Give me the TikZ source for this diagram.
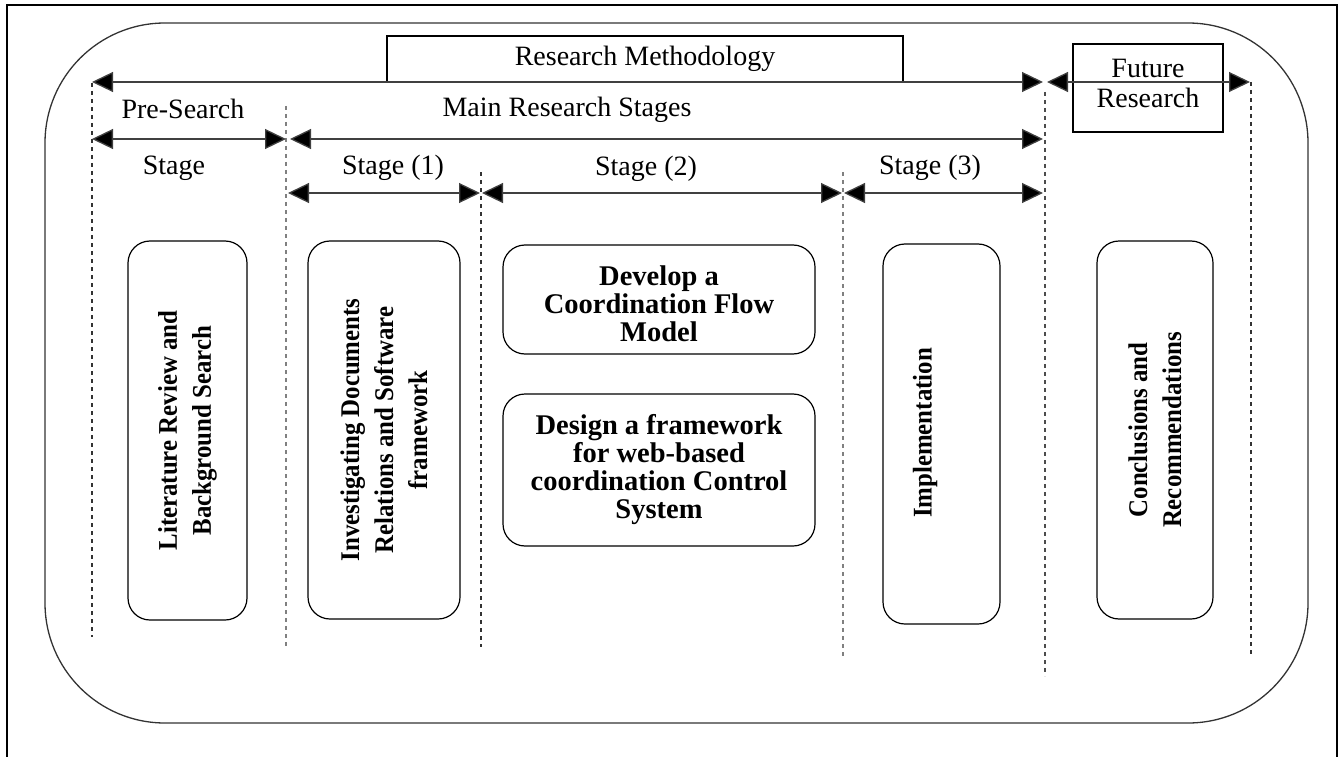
\documentclass[tikz,border=0pt]{standalone}
\usepackage{fontspec}
\setmainfont{Liberation Serif}
\newfontfamily\narrowserif[FakeStretch=0.92]{Liberation Serif}
\usetikzlibrary{arrows.meta}
\begin{document}
\begin{tikzpicture}[x=1pt,y=-1pt,
  lbl/.style={font=\fontsize{28}{30}\selectfont, inner sep=0pt, align=center},
  span/.style={line width=1.3pt, draw=black!75,
    {Triangle[length=21pt,width=20pt,fill=black]}-{Triangle[length=21pt,width=20pt,fill=black]}},
  divider/.style={line width=1.4pt, dash pattern=on 4pt off 4pt},
  hbox/.style={draw, line width=1.2pt, rounded corners=22pt, align=center,
    font=\bfseries\fontsize{28.5}{28}\selectfont, inner sep=0pt},
  vbox/.style={draw, line width=1.2pt, rounded corners=22pt, align=center,
    font=\narrowserif\bfseries\fontsize{27}{34}\selectfont, inner sep=0pt, rotate=90},
  vtext/.style={align=center, font=\narrowserif\bfseries\fontsize{27}{34}\selectfont,
    inner sep=0pt, rotate=90}]
\useasboundingbox (0,0) rectangle (1344,757);

% page frame
\draw[line width=2.4pt] (7,757) -- (7,5) -- (1337,5) -- (1337,757);

% outer rounded border
\draw[line width=1.3pt, black!80, rounded corners=120pt] (45,23) rectangle (1308,723);

% title boxes
\node[draw, line width=1.2pt, minimum width=516pt, minimum height=46pt, inner sep=0pt,
  font=\fontsize{28}{30}\selectfont] (rm) at (645,59) {Research Methodology};
\node[draw, line width=1.2pt, minimum width=150pt, minimum height=88pt, inner sep=0pt] (fr) at (1148,88) {};
\node[lbl] (frt) at (1148,83) {Future\\Research};

% stage dividers
\coordinate (d0t) at (92,83);   \coordinate (d0b) at (92,637);
\coordinate (d1t) at (286,106); \coordinate (d1b) at (286,648);
\coordinate (d2t) at (481,172); \coordinate (d2b) at (481,647);
\coordinate (d3t) at (843,172); \coordinate (d3b) at (843,657);
\coordinate (d4t) at (1045,92); \coordinate (d4b) at (1045,676);
\coordinate (d5t) at (1251,82); \coordinate (d5b) at (1251,657);
\draw[divider, black!80] (d0t) -- (d0b);
\draw[divider, black!50] (d1t) -- (d1b);
\draw[divider, black!80] (d2t) -- (d2b);
\draw[divider, black!50] (d3t) -- (d3b);
\draw[divider, black!70] (d4t) -- (d4b);
\draw[divider, black!80] (d5t) -- (d5b);

% span arrows, first row
\coordinate (r1a) at (92,82);   \coordinate (r1b) at (1043,82);
\coordinate (r1c) at (1047,82); \coordinate (r1d) at (1250,82);
\draw[span] (r1a) -- (r1b);
\draw[span] (r1c) -- (r1d);

% span arrows, second row
\coordinate (r2a) at (92,139);  \coordinate (r2b) at (286,139);
\coordinate (r2c) at (290,139); \coordinate (r2d) at (1043,139);
\draw[span] (r2a) -- (r2b);
\draw[span] (r2c) -- (r2d);

% span arrows, third row
\coordinate (r3a) at (288,193); \coordinate (r3b) at (480,193);
\coordinate (r3c) at (482,193); \coordinate (r3d) at (842,193);
\coordinate (r3e) at (844,193); \coordinate (r3f) at (1043,193);
\draw[span] (r3a) -- (r3b);
\draw[span] (r3c) -- (r3d);
\draw[span] (r3e) -- (r3f);

% span labels
\node[lbl] (pre) at (183,109) {Pre-Search};
\node[lbl] (prest) at (174,168) {Stage};
\node[lbl] (main) at (567,110) {Main Research Stages};
\node[lbl] (s1) at (393,168) {Stage (1)};
\node[lbl] (s2) at (646,169) {Stage (2)};
\node[lbl] (s3) at (930,168) {Stage (3)};

% activity boxes
\node[vbox, minimum width=379pt, minimum height=119pt] (lit) at (187.5,430.5)
  {Literature Review and\\Background Search};
\node[vbox, minimum width=378pt, minimum height=152pt] (inv) at (384,430)
  {Investigating Documents\\Relations and Software\\framework};
\node[hbox, minimum width=312pt, minimum height=109pt] (dev) at (659,299.5) {};
\node[align=center, font=\bfseries\fontsize{28.5}{28}\selectfont, inner sep=0pt] (devt) at (659,304)
  {Develop a\\Coordination Flow\\Model};
\node[hbox, minimum width=312pt, minimum height=152pt] (des) at (659,470)
  {Design a framework\\for web-based\\coordination Control\\System};
\node[draw, line width=1.2pt, rounded corners=22pt, minimum width=117pt, minimum height=380pt,
  inner sep=0pt] (imp) at (941.5,434) {};
\node[vtext] (impt) at (925,433) {Implementation};
\node[vbox, minimum width=378pt, minimum height=116pt] (con) at (1155,430)
  {Conclusions and\\Recommendations};
\end{tikzpicture}
\end{document}
